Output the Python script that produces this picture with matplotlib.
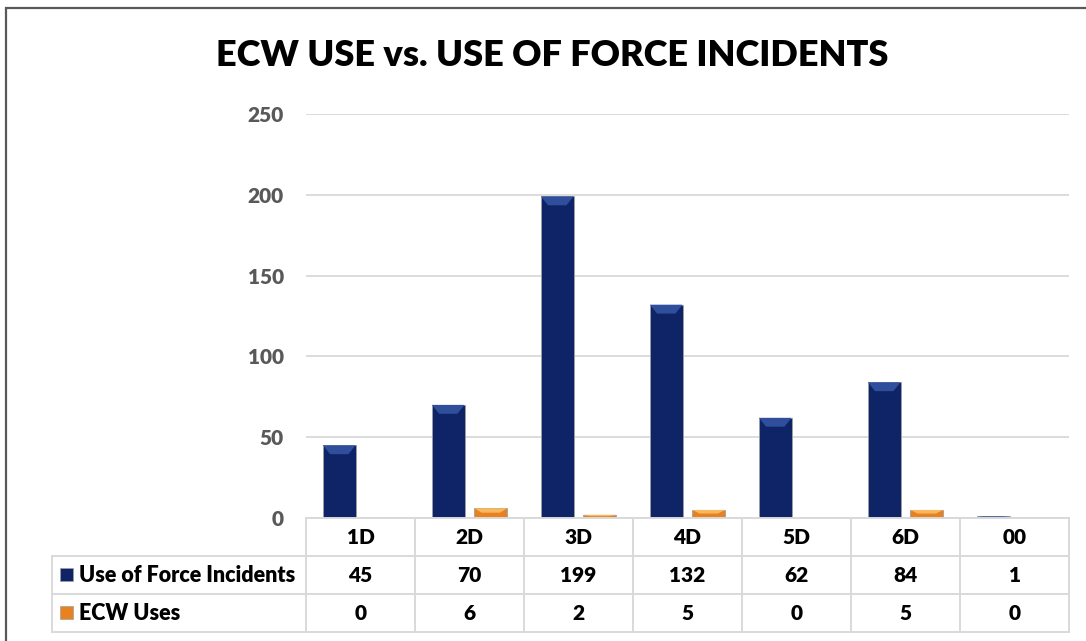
import numpy as np
import matplotlib.pyplot as plt
from matplotlib.patches import Rectangle, Polygon
from matplotlib.lines import Line2D

# chart data
districts = ['1D', '2D', '3D', '4D', '5D', '6D', '00']
force_incidents = [45, 70, 199, 132, 62, 84, 1]
ecw_uses = [0, 6, 2, 5, 0, 5, 0]
series_names = ['Use of Force Incidents', 'ECW Uses']
y_ticks = [0, 50, 100, 150, 200, 250]

W, H = 1086, 641
BLUE = '#0f2466'
BLUE_TOP = '#2f4e9c'
ORANGE = '#e8811f'
ORANGE_TOP = '#f7b860'
GRID = '#d9d9d9'
FONT = 'Lato'
WEIGHT = 'heavy'


def fx(px):
    return px / W


def fy(py):
    return 1 - py / H


fig = plt.figure(figsize=(W / 100, H / 100), dpi=100)
fig.patch.set_facecolor('white')

# outer chart frame
fig.add_artist(Rectangle((fx(6), fy(660)), fx(1100) - fx(6), fy(8) - fy(660),
                         transform=fig.transFigure, fill=False,
                         edgecolor='#595959', linewidth=1.6))

ax_left, ax_right, ax_top, ax_bottom = 306, 1069, 114, 518
ax = fig.add_axes([fx(ax_left), fy(ax_bottom), fx(ax_right) - fx(ax_left),
                   fy(ax_top) - fy(ax_bottom)])

x = np.arange(len(districts))
bw = 0.30
off = 0.195
series = [(force_incidents, -off, BLUE, BLUE_TOP), (ecw_uses, off, ORANGE, ORANGE_TOP)]
for vals, dx, col, top_col in series:
    bars = ax.bar(x + dx, vals, width=bw, color=col, edgecolor='#a0a0a0',
                  linewidth=0.6, zorder=3)
    for b, v in zip(bars, vals):
        if v <= 0:
            continue
        x0 = b.get_x()
        x1 = x0 + b.get_width()
        h = min(5.5, v * 0.45)
        dxp = b.get_width() * 0.22
        ax.add_patch(Polygon([[x0, v], [x1, v], [x1 - dxp, v - h], [x0 + dxp, v - h]],
                             closed=True, facecolor=top_col, edgecolor='none', zorder=4))

ax.set_xlim(-0.5, len(districts) - 0.5)
ax.set_ylim(0, 250)
ax.set_yticks(y_ticks)
ax.set_yticklabels([str(t) for t in y_ticks], fontsize=15, fontweight=WEIGHT,
                   color='#595959', family=FONT)
ax.tick_params(axis='y', length=0, pad=16)
ax.set_xticks([])
ax.yaxis.grid(True, color=GRID, linewidth=1.3, zorder=0)
ax.set_axisbelow(True)
for s in ax.spines.values():
    s.set_visible(False)

fig.text(fx(552), fy(56), 'ECW USE vs. USE OF FORCE INCIDENTS', ha='center', va='center',
         fontsize=26, fontweight=WEIGHT, family=FONT, color='black')

# data table under the plot
row_y = [518, 556, 594, 632]
col_w = (ax_right - ax_left) / len(districts)
lab_left = 52
lw = 1.4


def hline(x0, x1, y):
    fig.add_artist(Line2D([fx(x0), fx(x1)], [fy(y), fy(y)], transform=fig.transFigure,
                          color=GRID, linewidth=lw))


def vline(xp, y0, y1):
    fig.add_artist(Line2D([fx(xp), fx(xp)], [fy(y0), fy(y1)], transform=fig.transFigure,
                          color=GRID, linewidth=lw))


hline(ax_left, ax_right, row_y[0])
for yy in row_y[1:]:
    hline(lab_left, ax_right, yy)
vline(lab_left, row_y[1], row_y[3])
for i in range(len(districts) + 1):
    vline(ax_left + i * col_w, row_y[0], row_y[3])

for i, d in enumerate(districts):
    cx = ax_left + (i + 0.5) * col_w
    fig.text(fx(cx), fy((row_y[0] + row_y[1]) / 2), d, ha='center', va='center',
             fontsize=15, fontweight=WEIGHT, family=FONT)
    for r, vals in enumerate([force_incidents, ecw_uses]):
        fig.text(fx(cx), fy((row_y[r + 1] + row_y[r + 2]) / 2), str(vals[i]),
                 ha='center', va='center', fontsize=15, fontweight=WEIGHT, family=FONT)

for r, (name, col) in enumerate(zip(series_names, [BLUE, ORANGE])):
    yc = (row_y[r + 1] + row_y[r + 2]) / 2
    fig.add_artist(Rectangle((fx(60), fy(yc + 6)), fx(13), fy(0) - fy(13),
                             transform=fig.transFigure, facecolor=col,
                             edgecolor='#a0a0a0', linewidth=0.5))
    fig.text(fx(79), fy(yc), name, ha='left', va='center', fontsize=15.5,
             fontweight=WEIGHT, family=FONT)

fig.savefig('out.png', dpi=100)
